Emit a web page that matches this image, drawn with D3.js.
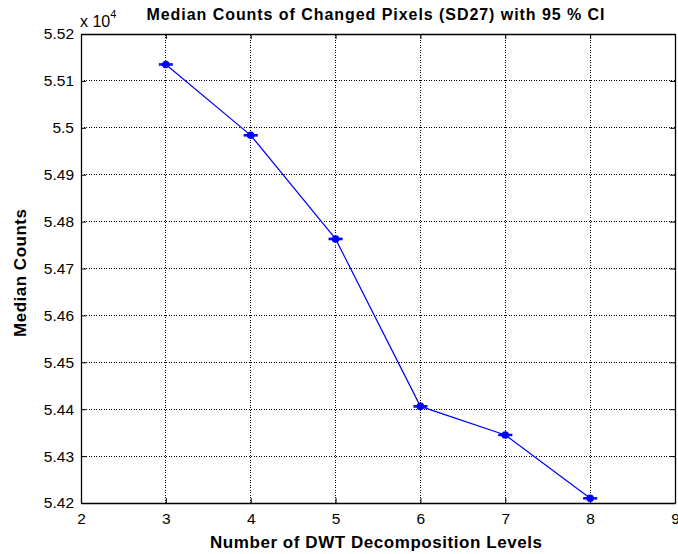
<!DOCTYPE html>
<html>
<head>
<meta charset="utf-8">
<script src="https://cdn.jsdelivr.net/npm/d3@7"></script>
<style>
  body { margin: 0; background: #fff; }
  text { font-family: "Liberation Sans", Arial, sans-serif; }
</style>
</head>
<body>
<div id="chart"></div>
<script>
// data, y values in units of 10^4
var levels = [3, 4, 5, 6, 7, 8];
var medians = [5.5135, 5.4984, 5.4763, 5.4406, 5.4345, 5.4210];
var ciHalf = [0.00012, 0.00012, 0.00012, 0.00012, 0.0001, 0.00011];
var xTicks = [2, 3, 4, 5, 6, 7, 8, 9];
var yTicks = [5.42, 5.43, 5.44, 5.45, 5.46, 5.47, 5.48, 5.49, 5.5, 5.51, 5.52];

var W = 678, H = 554;
var m = { left: 81, right: 3, top: 34, bottom: 51 };

var svg = d3.select("#chart").append("svg").attr("width", W).attr("height", H);

var x = d3.scaleLinear().domain([2, 9]).range([m.left, W - m.right]);
var y = d3.scaleLinear().domain([5.42, 5.52]).range([H - m.bottom, m.top]);

// grid
var grid = svg.append("g").attr("stroke", "#000").attr("stroke-width", 1)
  .attr("stroke-dasharray", "1,1.5").attr("shape-rendering", "crispEdges");
xTicks.slice(1, -1).forEach(function (t) {
  grid.append("line").attr("x1", x(t)).attr("x2", x(t)).attr("y1", y(5.42)).attr("y2", y(5.52));
});
yTicks.slice(1, -1).forEach(function (t) {
  grid.append("line").attr("x1", x(2)).attr("x2", x(9)).attr("y1", y(t)).attr("y2", y(t));
});

// axes (ticks inside)
var fmt = function (d) { return d3.format("")(+d.toFixed(2)); };
var xa = svg.append("g").attr("transform", "translate(0," + y(5.42) + ")")
  .call(d3.axisBottom(x).tickValues(xTicks).tickSizeInner(-5).tickSizeOuter(0).tickPadding(10).tickFormat(d3.format("d")));
var ya = svg.append("g").attr("transform", "translate(" + x(2) + ",0)")
  .call(d3.axisLeft(y).tickValues(yTicks).tickSizeInner(-5).tickSizeOuter(0).tickPadding(7).tickFormat(fmt));
svg.append("g").attr("transform", "translate(0," + y(5.52) + ")")
  .call(d3.axisTop(x).tickValues(xTicks).tickSizeInner(-5).tickSizeOuter(0).tickFormat(""));
svg.append("g").attr("transform", "translate(" + x(9) + ",0)")
  .call(d3.axisRight(y).tickValues(yTicks).tickSizeInner(-5).tickSizeOuter(0).tickFormat(""));
svg.selectAll(".domain").attr("stroke", "#000").attr("stroke-width", 1.3);
svg.selectAll(".tick line").attr("stroke", "#000");
svg.selectAll(".tick text").attr("font-size", 15.5).attr("fill", "#000")
  .style("font-family", "'Liberation Sans', Arial, sans-serif");
xa.selectAll(".tick text").attr("dy", "0.71em");

// line
var lineFunc = d3.line()
  .x(function (d, i) { return x(levels[i]) })
  .y(function (d) { return y(d) });
svg.append("path").attr("d", lineFunc(medians))
  .attr("stroke", "#0000ff").attr("stroke-width", 1.2).attr("fill", "none");

// error bars
var eb = svg.append("g").attr("stroke", "#0000ff").attr("stroke-width", 1.5);
levels.forEach(function (l, i) {
  var lo = y(medians[i] - ciHalf[i]), hi = y(medians[i] + ciHalf[i]);
  eb.append("line").attr("x1", x(l)).attr("x2", x(l)).attr("y1", lo).attr("y2", hi);
  eb.append("line").attr("x1", x(l) - 7).attr("x2", x(l) + 7).attr("y1", lo).attr("y2", lo);
  eb.append("line").attr("x1", x(l) - 7).attr("x2", x(l) + 7).attr("y1", hi).attr("y2", hi);
});
svg.append("g").selectAll("circle").data(medians).enter().append("circle")
  .attr("cx", function (d, i) { return x(levels[i]) })
  .attr("cy", function (d) { return y(d) })
  .attr("r", 3.8).attr("fill", "#0000ff");

// texts
svg.append("text").attr("x", 375.5).attr("y", 20).attr("text-anchor", "middle")
  .attr("font-size", 16).attr("font-weight", "bold")
  .attr("textLength", 458).attr("lengthAdjust", "spacing")
  .text("Median Counts of Changed Pixels (SD27) with 95 % CI");
var mult = svg.append("text").attr("x", 80).attr("y", 27).attr("font-size", 16);
mult.append("tspan").text("x 10");
mult.append("tspan").attr("font-size", 11).attr("dy", -9).text("4");
svg.append("text").attr("x", 376).attr("y", 548).attr("text-anchor", "middle")
  .attr("font-size", 17).attr("font-weight", "bold")
  .attr("textLength", 332).attr("lengthAdjust", "spacing")
  .text("Number of DWT Decomposition Levels");
svg.append("text").attr("transform", "translate(26,273) rotate(-90)").attr("text-anchor", "middle")
  .attr("font-size", 17).attr("font-weight", "bold")
  .attr("textLength", 128).attr("lengthAdjust", "spacing")
  .text("Median Counts");
</script>
</body>
</html>
